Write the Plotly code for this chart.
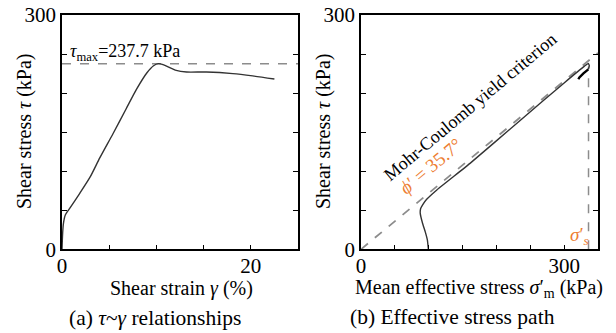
import math
import plotly.graph_objects as go

# ---- data: (a) tau ~ gamma ----
gamma = [0, 0.07, 0.15, 0.35, 0.85, 1.9, 3.0, 4.0, 5.4, 6.8, 7.9, 9.0, 9.7, 10.2,
         10.7, 12.1, 13.2, 15.3, 18.1, 20.2, 22.5]
tau_a = [0, 21, 33, 44, 53, 72, 93, 117, 148, 180, 205, 226, 235, 237.7,
         236.5, 229, 227, 227, 225, 222, 218]
tau_max = 237.7

# ---- data: (b) effective stress path ----
sigma_m = [99.5, 98, 95, 91, 87.5, 88, 91, 97, 112, 161, 235, 300, 330, 335.7,
           337.2, 335.7]
tau_b = [0, 12, 22, 33, 46, 52, 57, 64, 76, 110, 165, 213, 234.5, 238,
         235, 230.4]
hook_sigma = [335.7, 331, 328.5, 322.5, 321]
hook_tau = [230.4, 227.5, 225.3, 220, 217.7]
phi_deg = 35.7
mc_sigma = [0, 350]
mc_tau = [s * math.tan(math.radians(phi_deg)) for s in mc_sigma]
sigma_s = 336
sigma_s_line_tau = [0, 234]

# labelled (major) and unlabelled (minor) ticks
x_major_a = [0, 20]
x_minor_a = [5, 10, 15, 25]
y_major = [0, 300]
y_minor = [50, 100, 150, 200, 250]
x_major_b = [0, 300]
x_minor_b = [50, 100, 150, 200, 250, 350]

FONT = "Liberation Serif, Times New Roman, serif"
ORANGE = "#ED7D31"
GRAY = "#8c8c8c"
CURVE = "#333333"

fig = go.Figure()

# (a)
fig.add_trace(go.Scatter(x=[0, 25], y=[tau_max, tau_max], mode="lines",
                         line=dict(color=GRAY, width=1.5, dash="dash"),
                         xaxis="x", yaxis="y", showlegend=False))
fig.add_trace(go.Scatter(x=gamma, y=tau_a, mode="lines",
                         line=dict(color=CURVE, width=1.4, shape="spline", smoothing=0.6),
                         xaxis="x", yaxis="y", showlegend=False))

# (b)
fig.add_trace(go.Scatter(x=mc_sigma, y=mc_tau, mode="lines",
                         line=dict(color=GRAY, width=1.8, dash="dash"),
                         xaxis="x2", yaxis="y2", showlegend=False))
fig.add_trace(go.Scatter(x=[sigma_s, sigma_s], y=sigma_s_line_tau, mode="lines",
                         line=dict(color=GRAY, width=1.5, dash="dash"),
                         xaxis="x2", yaxis="y2", showlegend=False))
fig.add_trace(go.Scatter(x=sigma_m, y=tau_b, mode="lines",
                         line=dict(color=CURVE, width=1.4, shape="spline", smoothing=0.4),
                         xaxis="x2", yaxis="y2", showlegend=False))
fig.add_trace(go.Scatter(x=hook_sigma, y=hook_tau, mode="lines",
                         line=dict(color="#000000", width=2.4),
                         xaxis="x2", yaxis="y2", showlegend=False))

W, H = 616, 333
yd = [(H - 249.3) / H, (H - 15) / H]

axis_common = dict(showgrid=False, zeroline=False, showline=True, linecolor="black",
                   linewidth=1.6, ticks="inside", ticklen=5, tickwidth=1.2,
                   automargin=False, tickmode="array",
                   tickcolor="black", tickfont=dict(family=FONT, size=21, color="black"))

def minor(vals):
    return dict(tickmode="array", tickvals=vals, ticks="inside", ticklen=5,
                tickwidth=1.2, tickcolor="black", showgrid=False)

fig.update_layout(
    width=W, height=H, margin=dict(l=0, r=0, t=0, b=0, autoexpand=False),
    paper_bgcolor="white", plot_bgcolor="white",
    font=dict(family=FONT, color="black"),
    xaxis=dict(domain=[62 / W, 298 / W], range=[0, 25], tickvals=x_major_a,
               ticktext=[str(v) for v in x_major_a], minor=minor(x_minor_a),
               mirror=True, anchor="y", ticklabelstandoff=-3, **axis_common),
    yaxis=dict(domain=yd, range=[0, 300], tickvals=y_major,
               ticktext=[str(v) for v in y_major], minor=minor(y_minor),
               mirror="ticks", anchor="x", **axis_common),
    xaxis2=dict(domain=[361 / W, 598 / W], range=[0, 350], tickvals=x_major_b,
                ticktext=[str(v) for v in x_major_b], minor=minor(x_minor_b),
                mirror=True, anchor="y2", ticklabelstandoff=-3, **axis_common),
    yaxis2=dict(domain=yd, range=[0, 300], tickvals=y_major,
                ticktext=[str(v) for v in y_major], minor=minor(y_minor),
                mirror="ticks", anchor="x2", **axis_common),
)

ann = []
def A(text, x, y, size=20, color="black", angle=0, xref="paper", yref="paper",
      xanchor="center", yanchor="middle"):
    ann.append(dict(text=text, x=x, y=y, xref=xref, yref=yref, showarrow=False,
                    font=dict(family=FONT, size=size, color=color), textangle=angle,
                    xanchor=xanchor, yanchor=yanchor))

# axis titles
A("Shear stress <i>τ</i> (kPa)", 25 / W, 1 - 132 / H, angle=-90)
A("Shear stress <i>τ</i> (kPa)", 324 / W, 1 - 132 / H, angle=-90)
A("Shear strain <i>γ</i> (%)", 181 / W, 1 - 288 / H)
A("Mean effective stress <i>σ</i>′<sub>m</sub> (kPa)", 479 / W, 1 - 288 / H)
# captions
A("(a) <i>τ</i>~<i>γ</i> relationships", 155 / W, 1 - 318 / H, size=21.5)
A("(b) Effective stress path", 452 / W, 1 - 317 / H, size=21.5)
# in-plot text
A("<i>τ</i><sub>max</sub>=237.7 kPa", 68 / W, 1 - 53 / H, size=18, xanchor="left")
A("Mohr-Coulomb yield criterion", 470 / W, 1 - 107 / H, size=18, angle=-40)
A("<i>ϕ</i>′ = 35.7°", 430 / W, 1 - 166 / H, size=19, angle=-40, color=ORANGE)
A("<i>σ</i>′<sub><i>s</i></sub>", 579 / W, 1 - 236 / H, size=19, color=ORANGE)
fig.update_layout(annotations=ann)

fig.write_html("out.html")
